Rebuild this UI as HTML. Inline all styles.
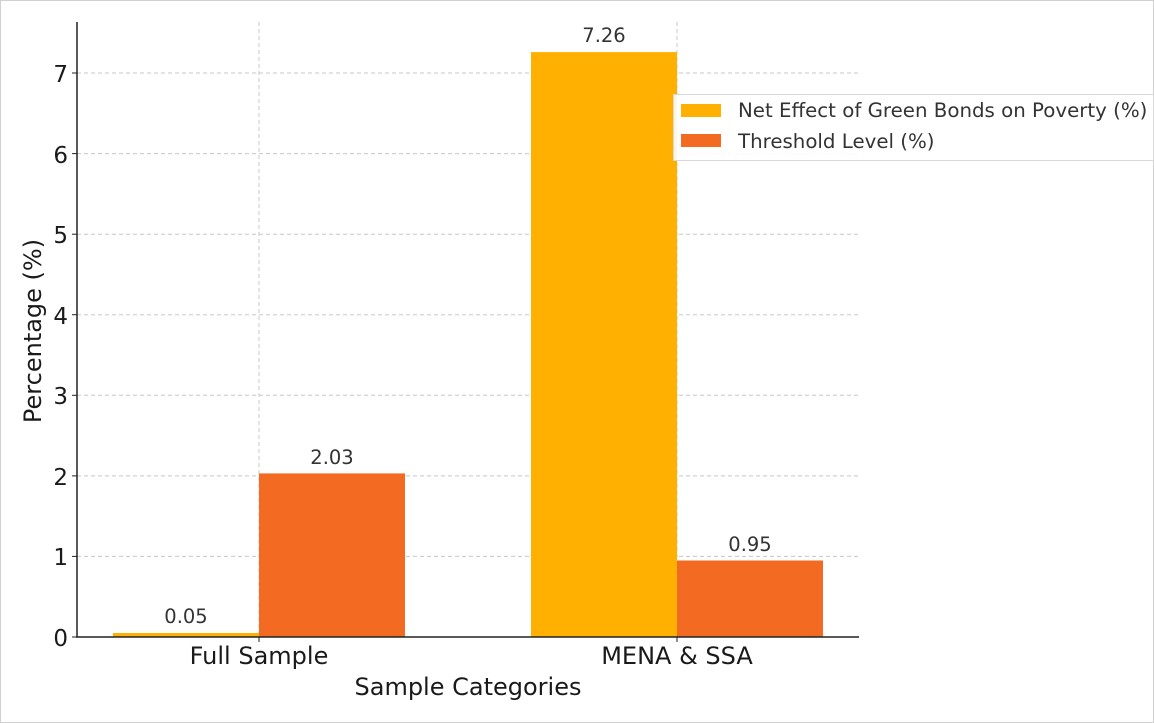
<!DOCTYPE html>
<html><head><style>
html,body{margin:0;padding:0;background:#fff;}
svg{display:block;font-family:"DejaVu Sans","Liberation Sans",sans-serif;}
</style></head><body>
<svg width="1154" height="723" viewBox="0 0 1154 723" xmlns="http://www.w3.org/2000/svg">
<rect x="0.5" y="0.5" width="1153" height="722" fill="#fff" stroke="#d0d0d0"/>
<g stroke="#c8c8c8" stroke-dasharray="4,3" stroke-width="1">
<line x1="77" x2="859" y1="556.4" y2="556.4"/>
<line x1="77" x2="859" y1="475.9" y2="475.9"/>
<line x1="77" x2="859" y1="395.3" y2="395.3"/>
<line x1="77" x2="859" y1="314.7" y2="314.7"/>
<line x1="77" x2="859" y1="234.2" y2="234.2"/>
<line x1="77" x2="859" y1="153.6" y2="153.6"/>
<line x1="77" x2="859" y1="73" y2="73"/>
<line x1="259" x2="259" y1="22" y2="637"/>
<line x1="677" x2="677" y1="22" y2="637"/>
</g>
<rect x="113" y="633" width="146" height="4" fill="#FFB000"/>
<rect x="259" y="473.4" width="146" height="163.6" fill="#F36B22"/>
<rect x="531" y="52.1" width="146" height="584.9" fill="#FFB000"/>
<rect x="677" y="560.5" width="146" height="76.5" fill="#F36B22"/>
<line x1="77" x2="77" y1="22" y2="637" stroke="#222" stroke-width="1.5"/>
<line x1="76" x2="859" y1="637" y2="637" stroke="#222" stroke-width="1.5"/>
<g stroke="#222"><line x1="72" x2="77" y1="637" y2="637"/><line x1="72" x2="77" y1="556.4" y2="556.4"/><line x1="72" x2="77" y1="475.9" y2="475.9"/><line x1="72" x2="77" y1="395.3" y2="395.3"/><line x1="72" x2="77" y1="314.7" y2="314.7"/><line x1="72" x2="77" y1="234.2" y2="234.2"/><line x1="72" x2="77" y1="153.6" y2="153.6"/><line x1="72" x2="77" y1="73" y2="73"/><line x1="259" x2="259" y1="637" y2="642"/><line x1="677" x2="677" y1="637" y2="642"/></g>
<g font-size="23" fill="#1a1a1a" text-anchor="end">
<text x="68" y="646">0</text><text x="68" y="565">1</text><text x="68" y="485">2</text><text x="68" y="404">3</text><text x="68" y="324">4</text><text x="68" y="243">5</text><text x="68" y="163">6</text><text x="68" y="82">7</text>
</g>
<g font-size="24" fill="#1a1a1a" text-anchor="middle">
<text x="259" y="664">Full Sample</text>
<text x="677" y="664">MENA &amp; SSA</text>
<text x="468" y="695">Sample Categories</text>
<text transform="translate(41,331) rotate(-90)">Percentage (%)</text>
</g>
<g font-size="19.5" fill="#333" text-anchor="middle">
<text x="186" y="623">0.05</text>
<text x="332" y="464">2.03</text>
<text x="604" y="42">7.26</text>
<text x="750" y="551">0.95</text>
</g>
<rect x="673.5" y="94.5" width="480" height="66" fill="#fff" fill-opacity="0.9" stroke="#d8d8d8"/>
<rect x="681" y="104" width="40" height="13" fill="#FFB000"/>
<rect x="681" y="134" width="40" height="13" fill="#F36B22"/>
<g font-size="19.8" fill="#333">
<text x="738" y="117">Net Effect of Green Bonds on Poverty (%)</text>
<text x="738" y="148">Threshold Level (%)</text>
</g>
</svg>
</body></html>
